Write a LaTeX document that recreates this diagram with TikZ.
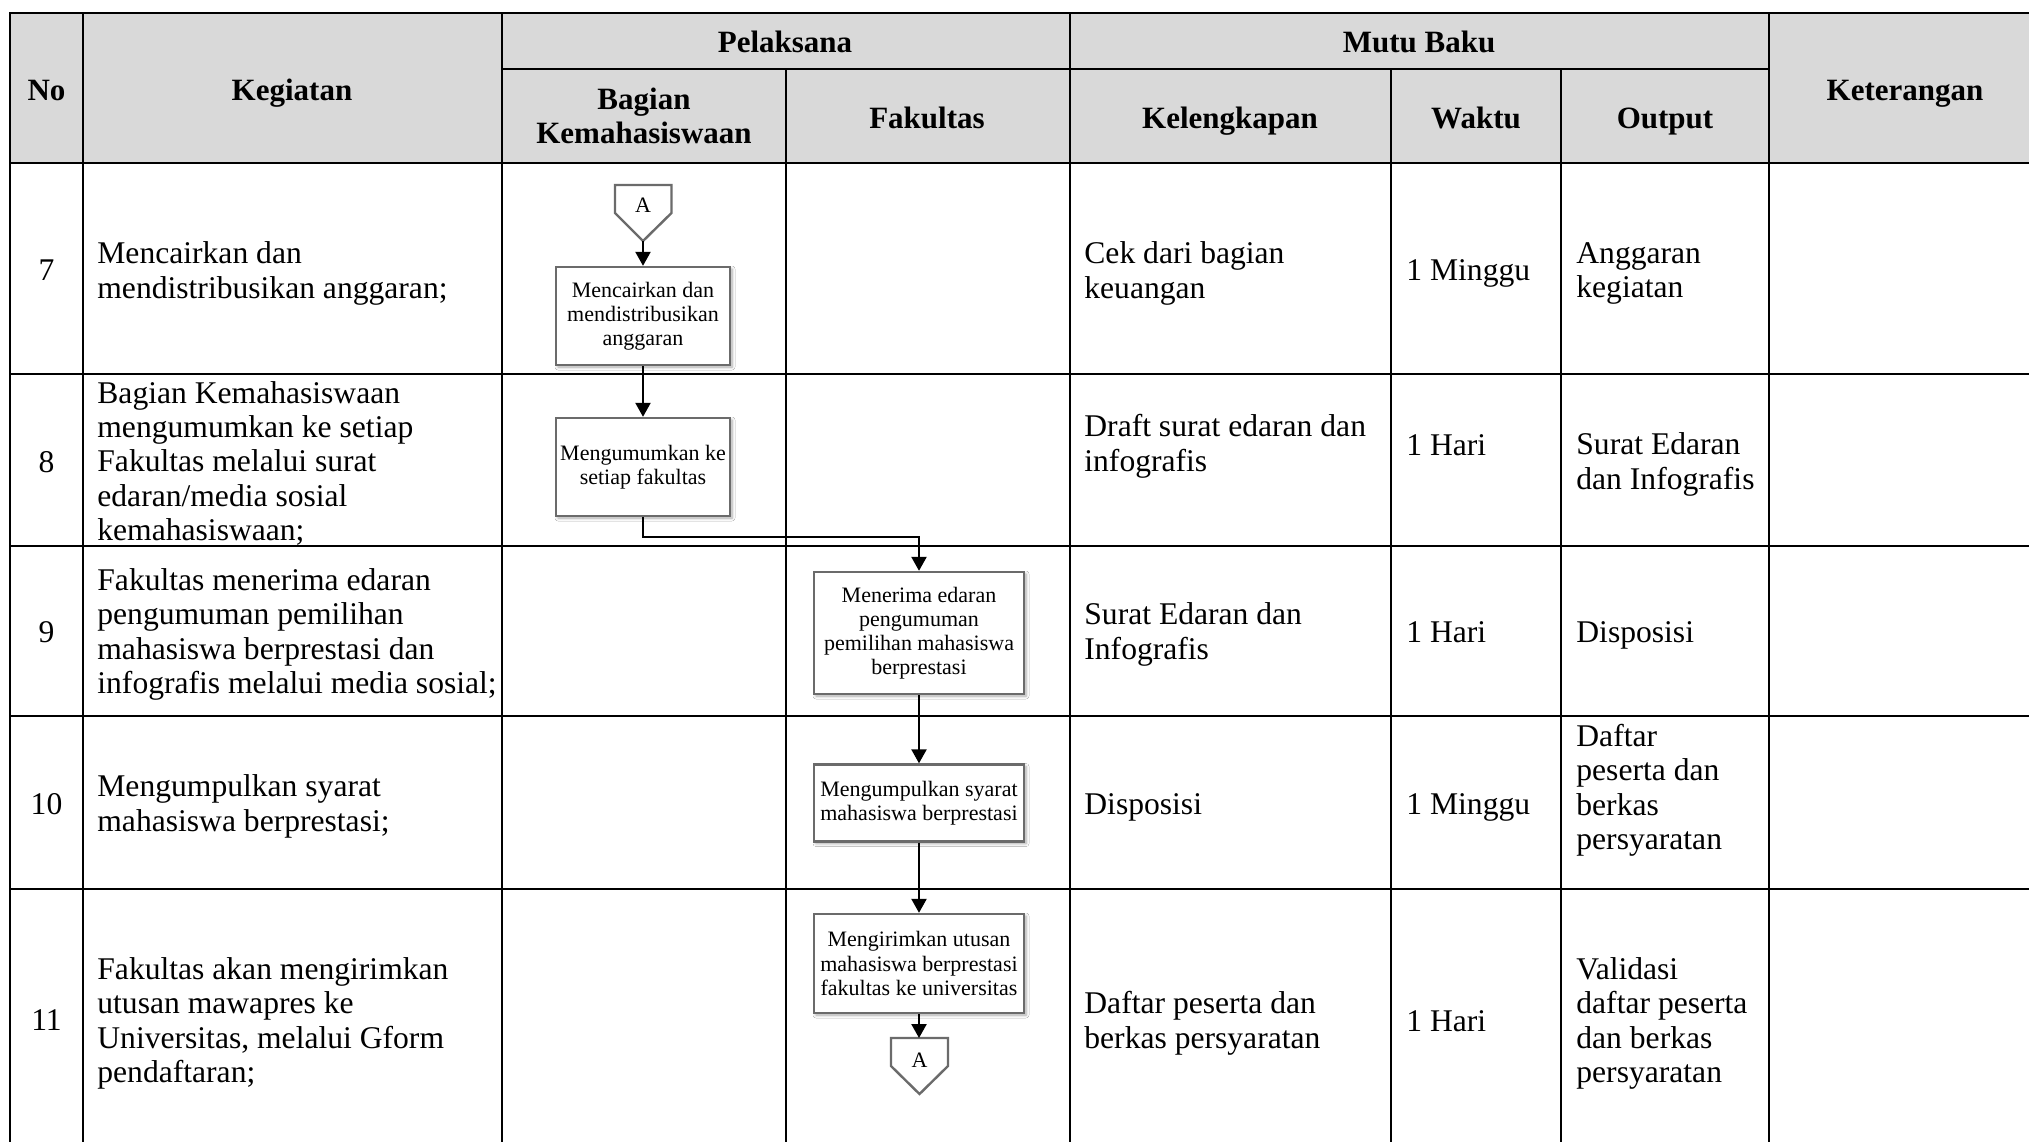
\documentclass[tikz,border=0pt]{standalone}
\usepackage{fontspec}
\setmainfont{Liberation Serif}
\usetikzlibrary{arrows.meta,shadows.blur}

\definecolor{hdrgray}{HTML}{D9D9D9}
\definecolor{boxgray}{HTML}{6B6B6B}

\begin{document}
\begin{tikzpicture}[
  x=0.5pt, y=-0.5pt,
  rule/.style={line width=1.35pt, line cap=rect},
  subrule/.style={line width=1.1pt},
  hdr/.style={font=\fontsize{15.5}{16.8}\selectfont\bfseries, align=center, inner sep=0pt,
              execute at begin node=\strut, execute at end node=\strut},
  cell/.style={font=\fontsize{15.8}{17.2}\selectfont, align=left, anchor=west, inner sep=0pt,
               execute at begin node=\strut, execute at end node=\strut},
  num/.style={font=\fontsize{15.8}{17.2}\selectfont, inner sep=0pt,
              execute at begin node=\strut},
  proc/.style={draw=boxgray, line width=1.2pt, fill=white, align=center, inner sep=0pt,
               font=\fontsize{11}{12.1}\selectfont, minimum width=87pt,
               blur shadow={shadow xshift=1pt, shadow yshift=-1pt, shadow blur steps=6,
                            shadow blur radius=1.5pt, shadow opacity=35}},
  offpage/.style={draw=boxgray, line width=1.2pt, fill=white, line join=miter},
  flow/.style={line width=1.2pt, -{Triangle[length=7pt,width=7.5pt]}},
]
\useasboundingbox (0,0) rectangle (2029,1141);
\clip (0,0) rectangle (2029,1141);
\fill[white] (0,0) rectangle (2029,1141);

% header band
\fill[hdrgray] (10,13) rectangle (2045,163);

% table rules
\foreach \yy in {13,163,374,546,716,889}
  \draw[rule] (10,\yy) -- (2045,\yy);
\foreach \xx in {10,83,502,1070,1769}
  \draw[rule] (\xx,13) -- (\xx,1160);
\foreach \xx in {786,1391,1561}
  \draw[rule] (\xx,69) -- (\xx,1160);
\draw[subrule] (502,69) -- (1769,69);

% header texts
\node[hdr] (hNo)   at (46.5,94)  {No};
\node[hdr] (hKeg)  at (292,94)   {Kegiatan};
\node[hdr] (hPel)  at (785,46)   {Pelaksana};
\node[hdr] (hBag)  at (644,121)  {Bagian\\Kemahasiswaan};
\node[hdr] (hFak)  at (927,122)  {Fakultas};
\node[hdr] (hMutu) at (1419,46)  {Mutu Baku};
\node[hdr] (hKel)  at (1230,122) {Kelengkapan};
\node[hdr] (hWak)  at (1476,122) {Waktu};
\node[hdr] (hOut)  at (1665,122) {Output};
\node[hdr] (hKet)  at (1905,94)  {Keterangan};

% row numbers
\node[num] (n7)  at (46.5,274)  {7};
\node[num] (n8)  at (46.5,466)  {8};
\node[num] (n9)  at (46.5,636)  {9};
\node[num] (n10) at (46.5,808)  {10};
\node[num] (n11) at (46.5,1024) {11};

% Kegiatan column
\node[cell] (k7)  at (97,275)  {Mencairkan dan\\mendistribusikan anggaran;};
\node[cell] (k8)  at (97,466)  {Bagian Kemahasiswaan\\mengumumkan ke setiap\\Fakultas melalui surat\\edaran/media sosial\\kemahasiswaan;};
\node[cell] (k9)  at (97,636)  {Fakultas menerima edaran\\pengumuman pemilihan\\mahasiswa berprestasi dan\\infografis melalui media sosial;};
\node[cell] (k10) at (97,808)  {Mengumpulkan syarat\\mahasiswa berprestasi;};
\node[cell] (k11) at (97,1025) {Fakultas akan mengirimkan\\utusan mawapres ke\\Universitas, melalui Gform\\pendaftaran;};

% Kelengkapan column
\node[cell] (c7)  at (1084,275)  {Cek dari bagian\\keuangan};
\node[cell] (c8)  at (1084,448)  {Draft surat edaran dan\\infografis};
\node[cell] (c9)  at (1084,636)  {Surat Edaran dan\\Infografis};
\node[cell] (c10) at (1084,808)  {Disposisi};
\node[cell] (c11) at (1084,1025) {Daftar peserta dan\\berkas persyaratan};

% Waktu column
\node[cell] (w7)  at (1406,274)  {1 Minggu};
\node[cell] (w8)  at (1406,449)  {1 Hari};
\node[cell] (w9)  at (1406,636)  {1 Hari};
\node[cell] (w10) at (1406,808)  {1 Minggu};
\node[cell] (w11) at (1406,1025) {1 Hari};

% Output column
\node[cell] (o7)  at (1576,275)  {Anggaran\\kegiatan};
\node[cell] (o8)  at (1576,466)  {Surat Edaran\\dan Infografis};
\node[cell] (o9)  at (1576,636)  {Disposisi};
\node[cell] (o10) at (1576,792)  {Daftar\\peserta dan\\berkas\\persyaratan};
\node[cell] (o11) at (1576,1025) {Validasi\\daftar peserta\\dan berkas\\persyaratan};

% off-page connector (incoming)
\draw[offpage] (615,185) -- (671.5,185) -- (671.5,213) -- (643,241) -- (615,213) -- cycle;
\node[font=\fontsize{11}{12}\selectfont, inner sep=0pt] (lblA1) at (643,205) {A};
\coordinate (offA) at (643,241);

% process boxes
\node[proc, minimum height=49pt]   (b1) at (643,316)   {Mencairkan dan\\mendistribusikan\\anggaran};
\node[proc, minimum height=49pt]   (b2) at (643,467)   {Mengumumkan ke\\setiap fakultas};
\node[proc, minimum width=105pt, minimum height=61pt]   (b3) at (919,633)   {Menerima edaran\\pengumuman\\pemilihan mahasiswa\\berprestasi};
\node[proc, minimum width=105pt, minimum height=38.5pt] (b4) at (919,803)   {Mengumpulkan syarat\\mahasiswa berprestasi};
\node[proc, minimum width=105pt, minimum height=49.5pt] (b5) at (919,963.5) {Mengirimkan utusan\\mahasiswa berprestasi\\fakultas ke universitas};

% off-page connector (outgoing)
\draw[offpage] (891,1038) -- (948,1038) -- (948,1066) -- (919.5,1094) -- (891,1066) -- cycle;
\node[font=\fontsize{11}{12}\selectfont, inner sep=0pt] (lblA2) at (919.5,1060) {A};
\coordinate (offB) at (919,1038);

% flow connectors
\coordinate (bend) at (919,537);
\draw[flow] (offA) -- (b1);
\draw[flow] (b1) -- (b2);
\draw[flow, line join=miter] (b2.south) |- (bend) -- (b3.north);
\draw[flow] (b3) -- (b4);
\draw[flow] (b4) -- (b5);
\draw[flow] (b5) -- (offB);
\end{tikzpicture}
\end{document}
